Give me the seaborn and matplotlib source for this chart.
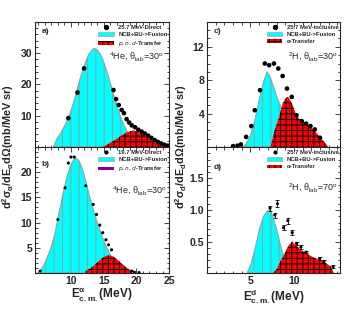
import numpy as np
import pandas as pd
import seaborn as sns
import matplotlib.pyplot as plt
from matplotlib.patches import Patch
from matplotlib.lines import Line2D
from matplotlib.ticker import MultipleLocator

sns.set_style("ticks")
plt.rcParams['font.family'] = ['Liberation Sans', 'DejaVu Sans']
plt.rcParams['mathtext.default'] = 'regular'
plt.rcParams['hatch.linewidth'] = 0.7

# ---- panel a: 4He, 25.7 MeV direct
a_cyan_x = [7.3, 7.8, 8.3, 8.8, 9.3, 9.8, 10.3, 10.8, 11.3, 11.8, 12.3, 12.8, 13.3, 13.6, 14.0,
            14.5, 15.0, 15.5, 16.0, 16.5, 17.0, 17.5, 18.0, 18.5, 19.0, 19.5, 20.0, 20.5, 21.0, 21.5]
a_cyan_y = [0.0, 2.4, 4.0, 5.8, 7.9, 10.5, 13.6, 17.2, 21.2, 24.6, 27.6, 29.9, 31.2, 31.5, 31.1,
            29.7, 27.2, 24.1, 20.6, 16.9, 13.4, 10.2, 7.5, 5.3, 3.6, 2.4, 1.5, 0.8, 0.4, 0.0]
a_red_x = [14.9, 15.5, 16.0, 16.5, 17.0, 17.5, 18.0, 18.5, 19.0, 19.5, 20.0, 20.5, 21.0,
           21.5, 22.0, 22.5, 23.0, 23.5, 24.0, 24.5, 25.0]
a_red_y = [0.0, 0.7, 1.3, 1.9, 2.6, 3.3, 4.0, 4.6, 5.0, 5.2, 5.05, 4.6, 4.0,
           3.3, 2.6, 1.9, 1.3, 0.85, 0.5, 0.3, 0.15]
a_dat_x = [9.6, 11.0, 12.0, 16.5, 16.9, 17.3, 17.75, 18.1, 18.5, 18.9, 19.3, 19.8, 20.3,
           20.8, 21.3, 21.8, 22.3, 22.8, 23.3, 23.8, 24.3, 24.8]
a_dat_y = [9.2, 17.4, 25.1, 18.2, 15.3, 13.4, 11.8, 10.8, 8.9, 7.8, 6.9, 6.3, 5.5,
           4.9, 4.3, 3.6, 2.9, 2.2, 1.6, 1.1, 0.7, 0.4]

# ---- panel b: 4He, 19.7 MeV direct
b_cyan_x = [5.3, 6.0, 6.5, 7.0, 7.5, 8.0, 8.5, 9.0, 9.5, 10.0, 10.5, 10.8, 11.2, 11.6, 12.0,
            12.5, 13.0, 13.5, 14.0, 14.5, 15.0, 15.5, 16.0, 16.5, 17.0, 17.5, 18.0]
b_cyan_y = [0.3, 2.0, 3.5, 5.3, 7.6, 10.8, 14.0, 17.0, 19.6, 21.6, 22.6, 22.8, 22.3, 21.2, 19.5,
            17.0, 14.5, 12.2, 10.1, 8.2, 6.5, 5.0, 3.7, 2.6, 1.6, 0.8, 0.3]
b_red_x = [12.2, 12.5, 13.0, 13.5, 14.0, 14.5, 15.0, 15.5, 15.8, 16.0, 16.5, 17.0, 17.5,
           18.0, 18.5, 19.0, 19.3]
b_red_y = [0.3, 0.6, 0.97, 1.47, 2.06, 2.66, 3.15, 3.45, 3.5, 3.47, 3.23, 2.77, 2.18,
           1.59, 1.06, 0.6, 0.3]
b_dat_x = [5.3, 8.0, 9.1, 9.6, 10.0, 10.5, 12.25, 13.4, 13.9, 14.4, 14.85, 15.35, 15.75,
           16.2, 19.3, 19.7, 20.4]
b_dat_y = [0.4, 10.6, 16.9, 21.8, 23.0, 23.0, 17.3, 13.6, 11.6, 9.5, 8.0, 6.6, 5.6,
           4.6, 0.4, 0.15, 0.1]

# ---- panel c: 2H inclusive, 30 deg
c_cyan_x = [4.2, 4.5, 5.0, 5.5, 6.0, 6.5, 6.9, 7.2, 7.5, 8.0, 8.5, 9.0, 9.5, 10.0, 10.5]
c_cyan_y = [0.0, 0.4, 1.4, 3.2, 5.6, 7.8, 9.0, 8.6, 7.7, 6.1, 4.8, 3.3, 2.0, 0.9, 0.0]
c_red_x = [7.3, 7.75, 8.3, 8.7, 9.0, 9.3, 9.6, 10.0, 10.3, 10.7, 11.25, 11.8, 12.4, 12.9, 13.4, 13.95]
c_red_y = [0.0, 1.9, 3.6, 5.2, 5.8, 6.0, 5.6, 4.6, 3.7, 3.3, 2.95, 2.5, 1.9, 1.3, 0.7, 0.0]
c_dat_x = [3.0, 3.5, 3.9, 4.5, 5.1, 5.5, 6.1, 6.65, 7.15, 7.7, 8.2, 8.7, 9.2, 9.75,
           10.3, 10.9, 11.4, 11.9, 12.4, 13.0]
c_dat_y = [0.1, 0.15, 0.3, 1.2, 2.5, 4.4, 6.8, 10.0, 9.8, 10.0, 9.4, 8.5, 7.0, 6.0,
           3.8, 3.1, 2.8, 2.5, 2.1, 1.1]

# ---- panel d: 2H inclusive, 70 deg
d_cyan_x = [4.6, 5.0, 5.5, 6.0, 6.5, 7.0, 7.3, 7.6, 8.0, 8.5, 9.0, 9.4, 9.6]
d_cyan_y = [0.0, 0.12, 0.37, 0.68, 0.9, 0.99, 1.0, 0.88, 0.7, 0.42, 0.18, 0.04, 0.0]
d_red_x = [7.6, 8.0, 8.5, 9.0, 9.4, 9.8, 10.2, 10.7, 11.2, 11.7, 12.2, 12.7, 13.2, 13.7, 14.2, 14.6]
d_red_y = [0.0, 0.06, 0.2, 0.33, 0.44, 0.5, 0.44, 0.38, 0.33, 0.29, 0.25, 0.22, 0.19, 0.15, 0.11, 0.0]
d_dat_x = [7.25, 7.8, 8.1, 8.8, 9.3, 9.8, 10.3, 10.8, 11.4, 12.95, 13.45, 14.5]
d_dat_y = [1.03, 0.92, 1.10, 0.72, 0.83, 0.64, 0.47, 0.41, 0.33, 0.23, 0.18, 0.10]
d_dat_e = [0.04, 0.04, 0.06, 0.04, 0.05, 0.04, 0.03, 0.03, 0.02, 0.02, 0.02, 0.02]

CYAN = '#00ffff'
RED = '#ff0000'
GREY = '#9a9a9a'

fig = plt.figure(figsize=(3.52, 3.16), dpi=100)
axa = fig.add_axes([0.0994, 0.535, 0.381, 0.396])
axb = fig.add_axes([0.0994, 0.136, 0.381, 0.399])
axc = fig.add_axes([0.588, 0.535, 0.378, 0.396])
axd = fig.add_axes([0.588, 0.136, 0.378, 0.399])


def draw(ax, cx, cy, rx, ry, dx, dy, ms, err=None):
    ax.fill_between(cx, 0, cy, facecolor=CYAN, edgecolor=GREY, hatch='||', lw=0.7, zorder=2)
    ax.fill_between(rx, 0, ry, facecolor=RED, edgecolor='black', hatch='+++', lw=0, zorder=3)
    df = pd.DataFrame({'x': dx, 'y': dy})
    if err is not None:
        ax.errorbar(dx, dy, yerr=err, fmt='none', ecolor='black', elinewidth=0.6,
                    capsize=1.2, capthick=0.6, zorder=4)
    sns.scatterplot(data=df, x='x', y='y', ax=ax, color='black', s=ms, edgecolor='none',
                    zorder=5, legend=False)
    ax.set_xlabel('')
    ax.set_ylabel('')


draw(axa, a_cyan_x, a_cyan_y, a_red_x, a_red_y, a_dat_x, a_dat_y, 11)
draw(axb, b_cyan_x, b_cyan_y, b_red_x, b_red_y, b_dat_x, b_dat_y, 5)
draw(axc, c_cyan_x, c_cyan_y, c_red_x, c_red_y, c_dat_x, c_dat_y, 11)
draw(axd, d_cyan_x, d_cyan_y, d_red_x, d_red_y, d_dat_x, d_dat_y, 5, err=d_dat_e)

for ax in (axa, axb):
    ax.set_xlim(4.5, 25)
    ax.xaxis.set_minor_locator(MultipleLocator(1))
    ax.set_xticks([10, 15, 20, 25])
for ax in (axc, axd):
    ax.set_xlim(0, 15.3)
    ax.xaxis.set_minor_locator(MultipleLocator(1))
    ax.set_xticks([5, 10])

axa.set_ylim(0, 40)
axa.set_yticks([10, 20, 30])
axa.yaxis.set_minor_locator(MultipleLocator(2))
axb.set_ylim(0, 25)
axb.set_yticks([5, 10, 15, 20])
axb.yaxis.set_minor_locator(MultipleLocator(1))
axc.set_ylim(0, 15)
axc.set_yticks([4, 8, 12])
axc.yaxis.set_minor_locator(MultipleLocator(1))
axd.set_ylim(0, 2)
axd.set_yticks([0.5, 1.0, 1.5])
axd.set_yticklabels(['0.5', '1.0', '1.5'])
axd.yaxis.set_minor_locator(MultipleLocator(0.1))

for ax in (axa, axb, axc, axd):
    ax.tick_params(which='both', direction='in', top=True, right=True, width=0.6)
    ax.tick_params(which='major', length=3.5, labelsize=7.5, pad=2)
    ax.tick_params(which='minor', length=1.8)
    for lab in ax.get_xticklabels() + ax.get_yticklabels():
        lab.set_fontweight('bold')
    for s in ax.spines.values():
        s.set_linewidth(0.8)
axa.tick_params(labelbottom=False)
axc.tick_params(labelbottom=False)


def legend(ax, dlabel, tlabel, tcol, thatch, ms):
    h = [Line2D([], [], ls='none', marker='o', color='black', markersize=ms),
         Patch(facecolor=CYAN, edgecolor=GREY, lw=0.4),
         Patch(facecolor=tcol, edgecolor='black', hatch=thatch, lw=0)]
    leg = ax.legend(h, [dlabel, 'NCB+BU->Fusion', tlabel], loc='upper right',
                    bbox_to_anchor=(1.02, 1.01), frameon=False, handlelength=2.6,
                    handleheight=0.6, labelspacing=0.4, handletextpad=0.8,
                    borderaxespad=0.3, prop={'size': 4.2, 'weight': 'bold'})
    leg.set_zorder(10)


legend(axa, '25.7 MeV-Direct', r'$\it{p,n,d}$-Transfer', RED, '+++', 2.8)
legend(axb, '19.7 MeV-Direct', r'$\it{p,n,d}$-Transfer', '#8000a0', None, 2.0)
legend(axc, '25.7 MeV-inclusive', 'α-Transfer', RED, '+++', 2.8)
legend(axd, '25.7 MeV-inclusive', 'α-Transfer', RED, '+++', 2.0)

axa.text(0.96, 0.72, r'$^4$He, θ$_{lab}$=30$^o$', transform=axa.transAxes, ha='right', va='center', fontsize=6.5)
axb.text(0.98, 0.65, r'$^4$He, θ$_{lab}$=30$^o$', transform=axb.transAxes, ha='right', va='center', fontsize=6.5)
axc.text(0.98, 0.72, r'$^2$H, θ$_{lab}$=30$^o$', transform=axc.transAxes, ha='right', va='center', fontsize=6.5)
axd.text(0.98, 0.675, r'$^2$H, θ$_{lab}$=70$^o$', transform=axd.transAxes, ha='right', va='center', fontsize=6.5)

for ax, lab, yy in ((axa, 'a)', 0.92), (axb, 'b)', 0.86), (axc, 'c)', 0.92), (axd, 'd)', 0.84)):
    ax.text(0.05, yy, lab, transform=ax.transAxes, ha='left', va='center', fontsize=6, fontweight='bold')

axb.set_xlabel(r'E$^{α}_{c.m.}$(MeV)', fontsize=8.5, fontweight='bold', labelpad=1)
axd.set_xlabel(r'E$^{d}_{c.m.}$(MeV)', fontsize=8.5, fontweight='bold', labelpad=1)

fig.text(0.024, 0.535, r'd$^2$σ$_α$/dE$_α$dΩ(mb/MeV sr)', rotation=90, ha='center', va='center',
         fontsize=7.8, fontweight='bold')
fig.text(0.514, 0.535, r'd$^2$σ$_d$/dE$_d$dΩ(mb/MeV sr)', rotation=90, ha='center', va='center',
         fontsize=7.8, fontweight='bold')

plt.savefig("out.png", dpi=100)
